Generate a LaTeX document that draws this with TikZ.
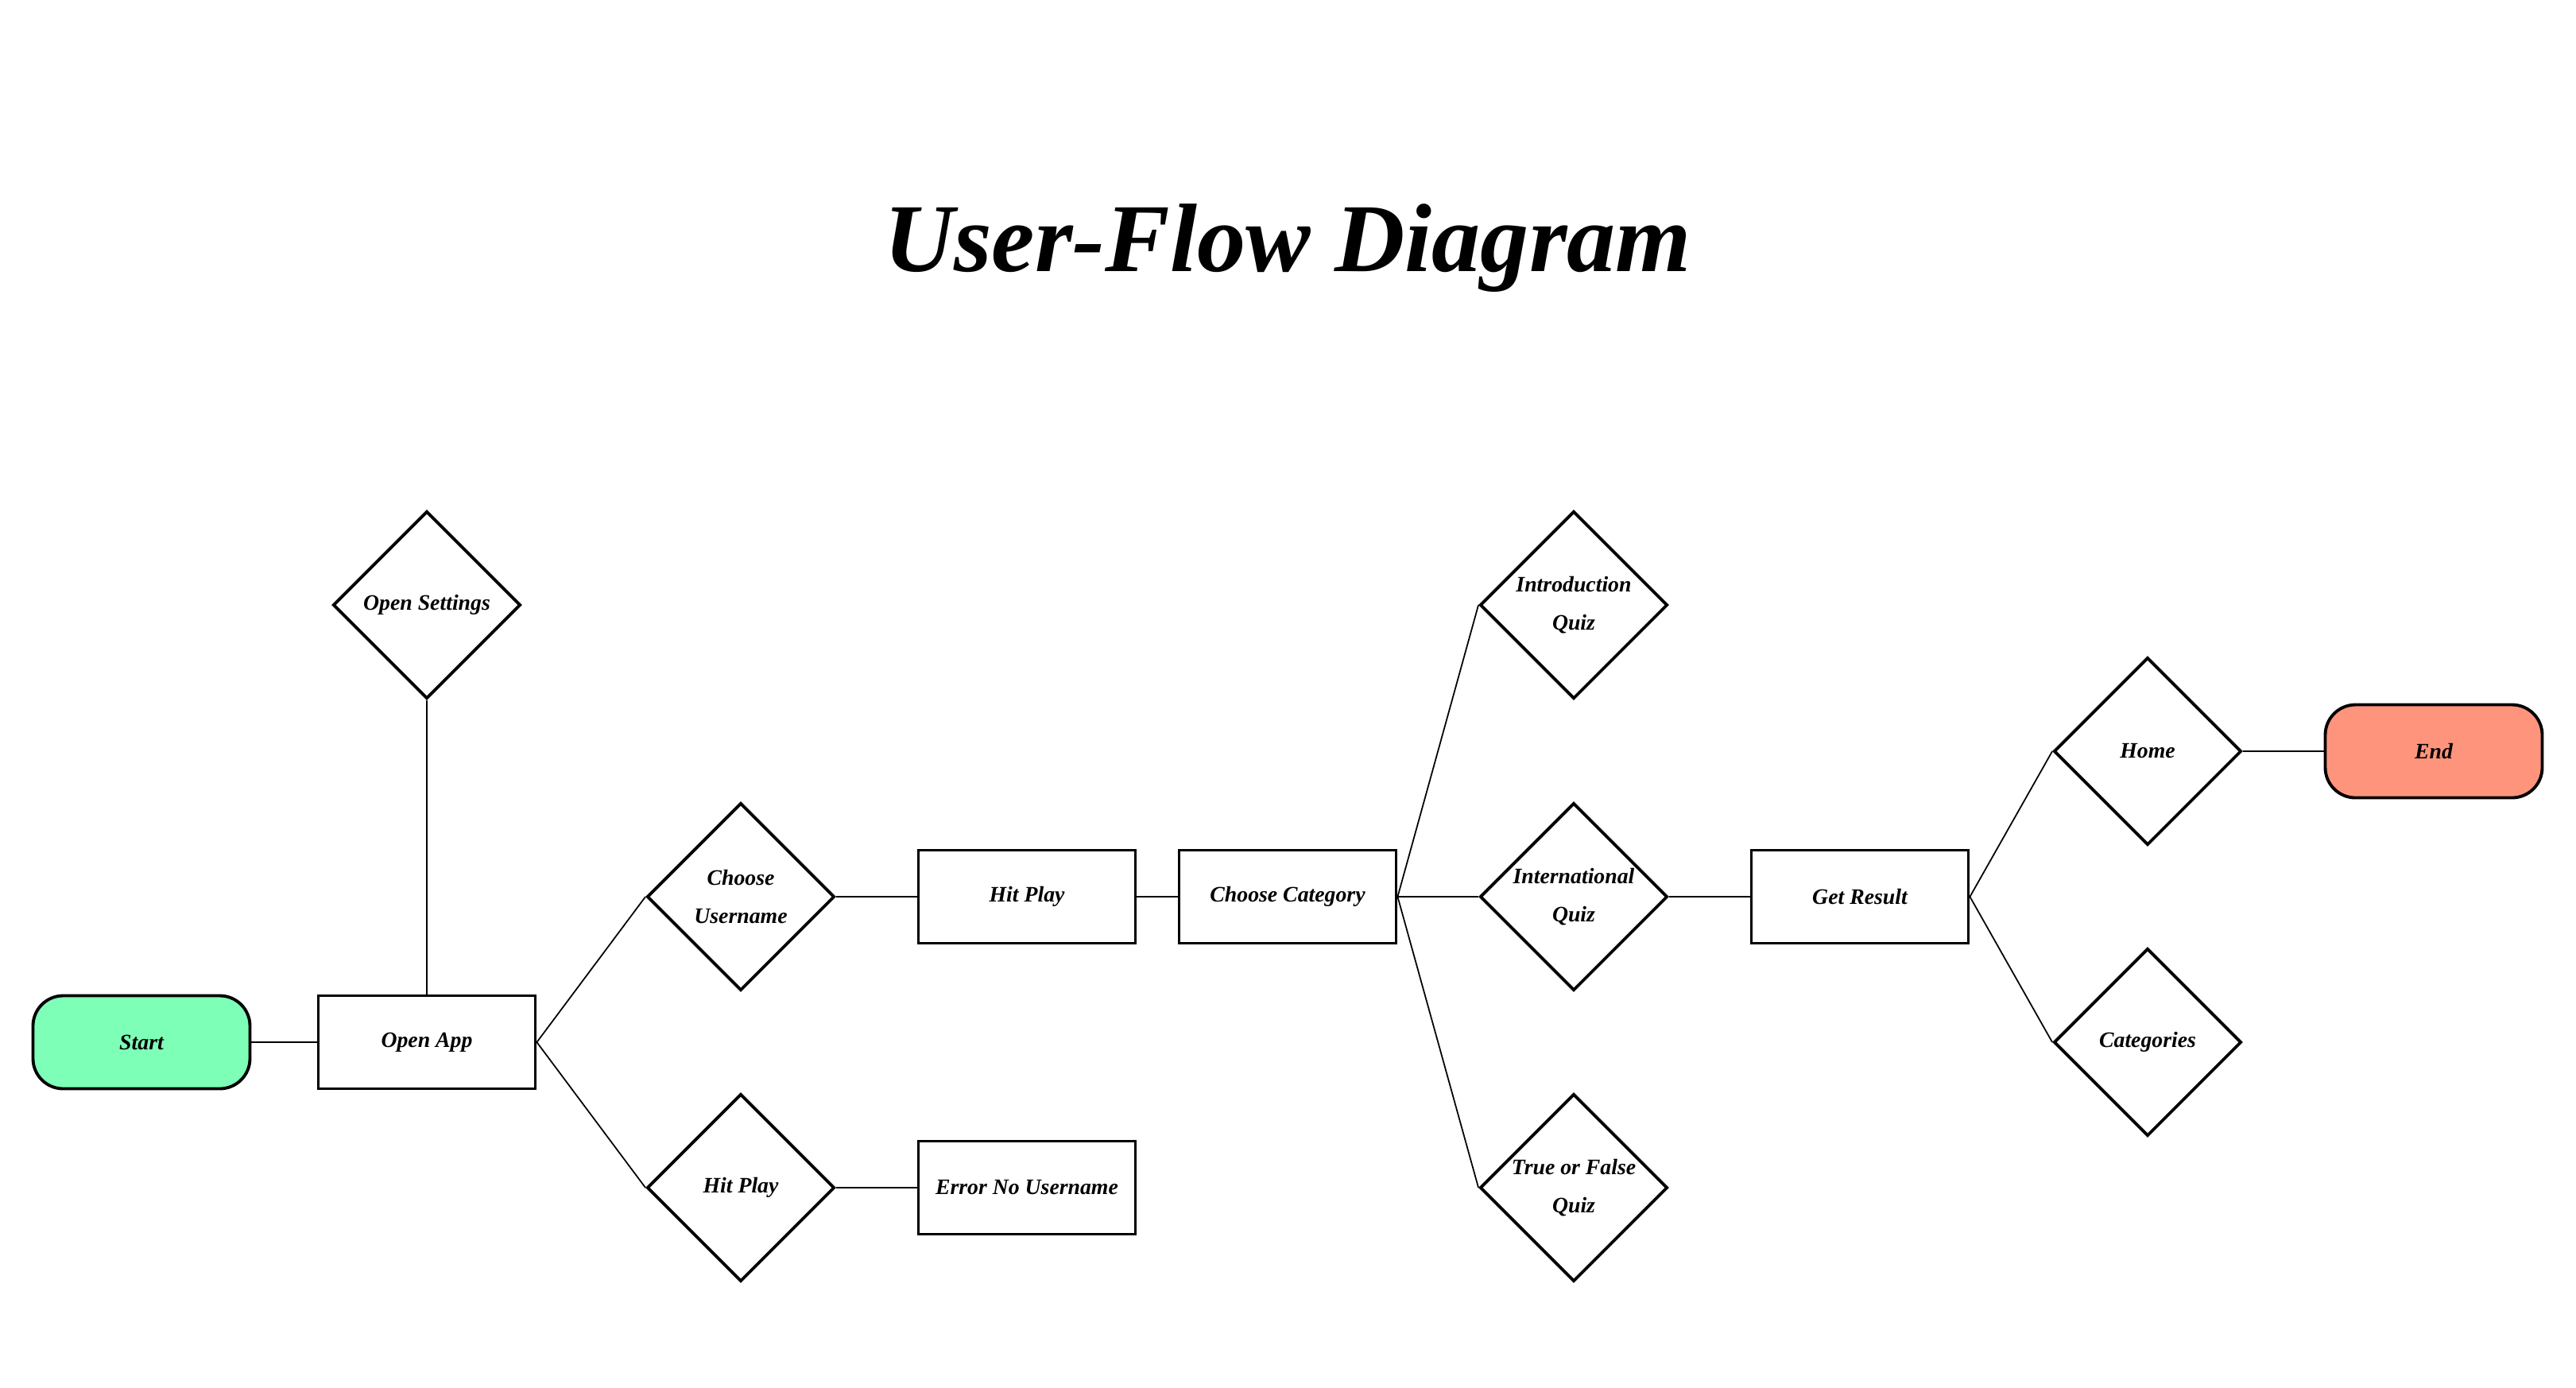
\documentclass[tikz,border=0pt]{standalone}
\usepackage{fontspec}
\setmainfont{Liberation Serif}
\usetikzlibrary{shapes.geometric}
\definecolor{startgreen}{RGB}{126,255,184}
\definecolor{endred}{RGB}{255,148,124}
\tikzset{
 lbl/.style={font=\fontsize{7.9}{13.6}\selectfont\bfseries\itshape, align=center},
 box/.style={draw=black, line width=1.1pt, minimum width=2.73cm, minimum height=1.17cm, inner sep=0pt, lbl},
 term/.style={box, rounded corners=0.38cm},
 dia/.style={draw=black, line width=1.1pt, diamond, minimum width=2.36cm, minimum height=2.36cm, inner sep=0pt},
 conn/.style={line width=0.5pt, draw=black}
}
\begin{document}
\begin{tikzpicture}
\fill[white] (0,0) rectangle (32.41,-17.45);
\useasboundingbox (0,0) rectangle (32.41,-17.45);

\node[font=\fontsize{34.8}{40}\selectfont\bfseries\itshape, anchor=base] (title) at (16.2,-3.41) {User-Flow Diagram};

\node[term, fill=startgreen] (start) at (1.78,-13.11) {Start};
\node[box] (open) at (5.37,-13.11) {Open App};
\node[dia, label={[lbl]center:Open Settings}] (settings) at (5.37,-7.61) {};
\node[dia, label={[lbl]center:{Choose\\Username}}] (chooseuser) at (9.32,-11.28) {};
\node[dia, label={[lbl]center:Hit Play}] (hitplayd) at (9.32,-14.94) {};
\node[box] (hitplay) at (12.92,-11.28) {Hit Play};
\node[box] (error) at (12.92,-14.94) {Error No Username};
\node[box] (category) at (16.20,-11.28) {Choose Category};
\node[dia, label={[lbl]center:{Introduction\\Quiz}}] (intro) at (19.80,-7.61) {};
\node[dia, label={[lbl]center:{International\\Quiz}}] (intl) at (19.80,-11.28) {};
\node[dia, label={[lbl]center:{True or False\\Quiz}}] (tf) at (19.80,-14.94) {};
\node[box] (result) at (23.40,-11.28) {Get Result};
\node[dia, label={[lbl]center:Home}] (home) at (27.02,-9.45) {};
\node[dia, label={[lbl]center:Categories}] (cats) at (27.02,-13.11) {};
\node[term, fill=endred] (end) at (30.62,-9.45) {End};

\draw[conn] (start.east) -- (open.west);
\draw[conn] (open.north) -- (settings.south);
\draw[conn] (open.east) -- (chooseuser.west);
\draw[conn] (open.east) -- (hitplayd.west);
\draw[conn] (chooseuser.east) -- (hitplay.west);
\draw[conn] (hitplayd.east) -- (error.west);
\draw[conn] (hitplay.east) -- (category.west);
\draw[conn] (category.east) -- (intro.west);
\draw[conn] (category.east) -- (intl.west);
\draw[conn] (category.east) -- (tf.west);
\draw[conn] (intl.east) -- (result.west);
\draw[conn] (result.east) -- (home.west);
\draw[conn] (result.east) -- (cats.west);
\draw[conn] (home.east) -- (end.west);
\end{tikzpicture}
\end{document}
